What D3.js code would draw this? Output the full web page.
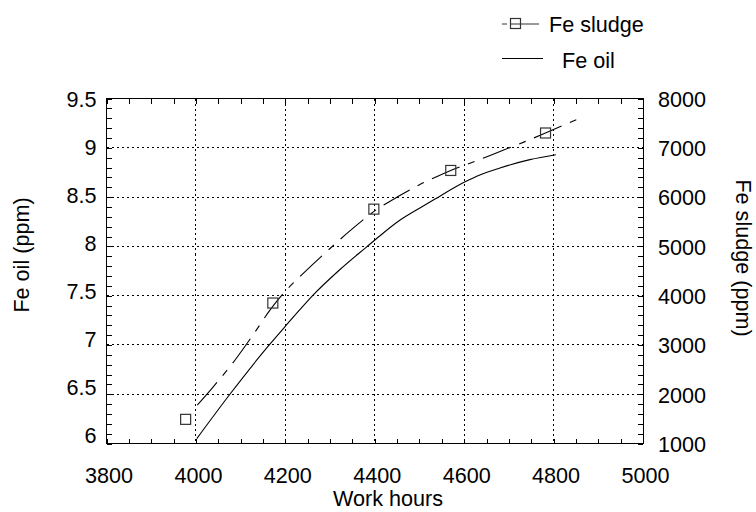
<!DOCTYPE html>
<html>
<head>
<meta charset="utf-8">
<script src="https://cdn.jsdelivr.net/npm/d3@7"></script>
<style>
  body { margin: 0; background: #fff; }
  svg text { font-family: "Liberation Sans", Arial, sans-serif; fill: #000; }
</style>
</head>
<body>
<div id="chart"></div>
<script>
// tick labels
const hourTicks = [3800, 4000, 4200, 4400, 4600, 4800, 5000];
const oilTicks = [6, 6.5, 7, 7.5, 8, 8.5, 9, 9.5];
const sludgeTicks = [1000, 2000, 3000, 4000, 5000, 6000, 7000, 8000];

// measured sludge samples (squares)
const sludgeHours = [3977, 4172, 4398, 4570, 4782];
const sludgeValues = [1490, 3850, 5755, 6540, 7300];

// sludge trend (dashed)
const sludgeFitHours = [4003, 4035, 4088, 4132, 4166, 4200, 4233, 4289, 4345, 4403, 4456, 4500, 4542, 4570, 4624, 4658, 4687, 4736, 4783, 4851];
const sludgeFitValues = [1780, 2110, 2700, 3260, 3710, 4090, 4390, 4867, 5318, 5740, 6030, 6250, 6430, 6540, 6725, 6845, 6950, 7125, 7305, 7570];

// Fe oil curve (solid)
const oilHours = [4002, 4076, 4164, 4202, 4233, 4261, 4321, 4382, 4403, 4456, 4501, 4531, 4602, 4635, 4680, 4747, 4805];
const oilValues = [6.05, 6.50, 7.00, 7.20, 7.36, 7.50, 7.76, 7.995, 8.075, 8.265, 8.39, 8.47, 8.655, 8.725, 8.795, 8.88, 8.93];

const W = 756, H = 512;
const L = 106.5, R = 643, T = 98.5, B = 443.5;

const svg = d3.select("#chart").append("svg")
  .attr("width", W).attr("height", H);

const x = d3.scaleLinear().domain([3800, 5000]).range([L, R]);
const yOil = d3.scaleLinear().domain([6, 9.5]).range([B, T]);
const ySludge = d3.scaleLinear().domain([1000, 8000]).range([B, T]);
// left labels sit slightly tighter than the ticks in the reference
const yOilLabel = d3.scaleLinear().domain([6, 9.5]).range([436, 100]);

// grid
const grid = svg.append("g")
  .attr("stroke", "#000").attr("stroke-width", 1)
  .attr("stroke-dasharray", "2,3").attr("shape-rendering", "crispEdges");
grid.selectAll(".gx").data(hourTicks.slice(1, -1)).enter().append("line")
  .attr("x1", d => x(d)).attr("x2", d => x(d))
  .attr("y1", T).attr("y2", B);
grid.selectAll(".gy").data(oilTicks.slice(1, -1)).enter().append("line")
  .attr("y1", d => yOil(d)).attr("y2", d => yOil(d))
  .attr("x1", L).attr("x2", R);

// minor/major ticks, pointing inward
const minorX = d3.range(3800, 5001, 50);
const minorOil = d3.range(60, 96, 1).map(d => d / 10);
const minorSludge = d3.range(1000, 8001, 200);

function tickAxis(axis, tr) {
  const g = svg.append("g").attr("transform", tr).call(axis);
  g.select(".domain").remove();
  g.selectAll("line").attr("shape-rendering", "crispEdges");
  return g;
}
tickAxis(d3.axisBottom(x).tickValues(minorX).tickSizeInner(-5).tickSizeOuter(0).tickFormat(""), `translate(0,${B})`);
tickAxis(d3.axisTop(x).tickValues(minorX).tickSizeInner(-5).tickSizeOuter(0).tickFormat(""), `translate(0,${T})`);
tickAxis(d3.axisLeft(yOil).tickValues(minorOil).tickSizeInner(-5).tickSizeOuter(0).tickFormat(""), `translate(${L},0)`);
tickAxis(d3.axisRight(ySludge).tickValues(minorSludge).tickSizeInner(-5).tickSizeOuter(0).tickFormat(""), `translate(${R},0)`);

// frame
svg.append("rect")
  .attr("x", L).attr("y", T).attr("width", R - L).attr("height", B - T)
  .attr("fill", "none").attr("stroke", "#000").attr("shape-rendering", "crispEdges");

// tick labels
const fs = 21.6;
function labelAxis(axis, tr) {
  const g = svg.append("g").attr("transform", tr).call(axis);
  g.select(".domain").remove();
  g.selectAll("line").remove();
  g.selectAll("text").attr("font-size", fs).attr("font-family", null);
  return g;
}
labelAxis(d3.axisBottom(x).tickValues(hourTicks).tickSize(0).tickPadding(24).tickFormat(d3.format("d")), `translate(2,${B})`);
labelAxis(d3.axisLeft(yOilLabel).tickValues(oilTicks).tickSize(0).tickPadding(10).tickFormat(d => d), `translate(${L},0)`);
labelAxis(d3.axisRight(ySludge).tickValues(sludgeTicks).tickSize(0).tickPadding(15).tickFormat(d3.format("d")), `translate(${R},1)`);

// axis titles
svg.append("text").attr("x", 388).attr("y", 506).attr("text-anchor", "middle")
  .attr("font-size", fs).text("Work hours");
svg.append("text").attr("transform", "translate(29,255) rotate(-90)")
  .attr("text-anchor", "middle").attr("font-size", fs).text("Fe oil (ppm)");
svg.append("text").attr("transform", "translate(736,258) rotate(90)")
  .attr("text-anchor", "middle").attr("font-size", fs).text("Fe sludge (ppm)");

// curves
const sludgeLine = d3.line()
  .x(d => x(d[0])).y(d => ySludge(d[1]))
  .curve(d3.curveMonotoneX);
const oilLine = d3.line()
  .x(d => x(d[0])).y(d => yOil(d[1]))
  .curve(d3.curveMonotoneX);

svg.append("path")
  .datum(d3.zip(oilHours, oilValues))
  .attr("d", oilLine)
  .attr("fill", "none").attr("stroke", "#000").attr("stroke-width", 1.1);

svg.append("path")
  .datum(d3.zip(sludgeFitHours, sludgeFitValues))
  .attr("d", sludgeLine)
  .attr("fill", "none").attr("stroke", "#000").attr("stroke-width", 1.1)
  .attr("stroke-dasharray", "30,9,7,9");

const sq = 10;
svg.selectAll(".pt").data(d3.zip(sludgeHours, sludgeValues)).enter().append("rect")
  .attr("x", d => x(d[0]) - sq / 2).attr("y", d => ySludge(d[1]) - sq / 2)
  .attr("width", sq).attr("height", sq)
  .attr("fill", "none").attr("stroke", "#333").attr("stroke-width", 1.2);

// legend
const leg = svg.append("g");
leg.append("line").attr("x1", 502).attr("x2", 539).attr("y1", 24).attr("y2", 24)
  .attr("stroke", "#333").attr("stroke-dasharray", "5,4,40");
leg.append("rect").attr("x", 510.5).attr("y", 18.5).attr("width", 10).attr("height", 10)
  .attr("fill", "none").attr("stroke", "#333").attr("stroke-width", 1.2);
leg.append("text").attr("x", 549).attr("y", 32).attr("font-size", fs).text("Fe sludge");
leg.append("line").attr("x1", 502).attr("x2", 543).attr("y1", 58.5).attr("y2", 58.5)
  .attr("stroke", "#000");
leg.append("text").attr("x", 562).attr("y", 68).attr("font-size", fs).text("Fe oil");
</script>
</body>
</html>
